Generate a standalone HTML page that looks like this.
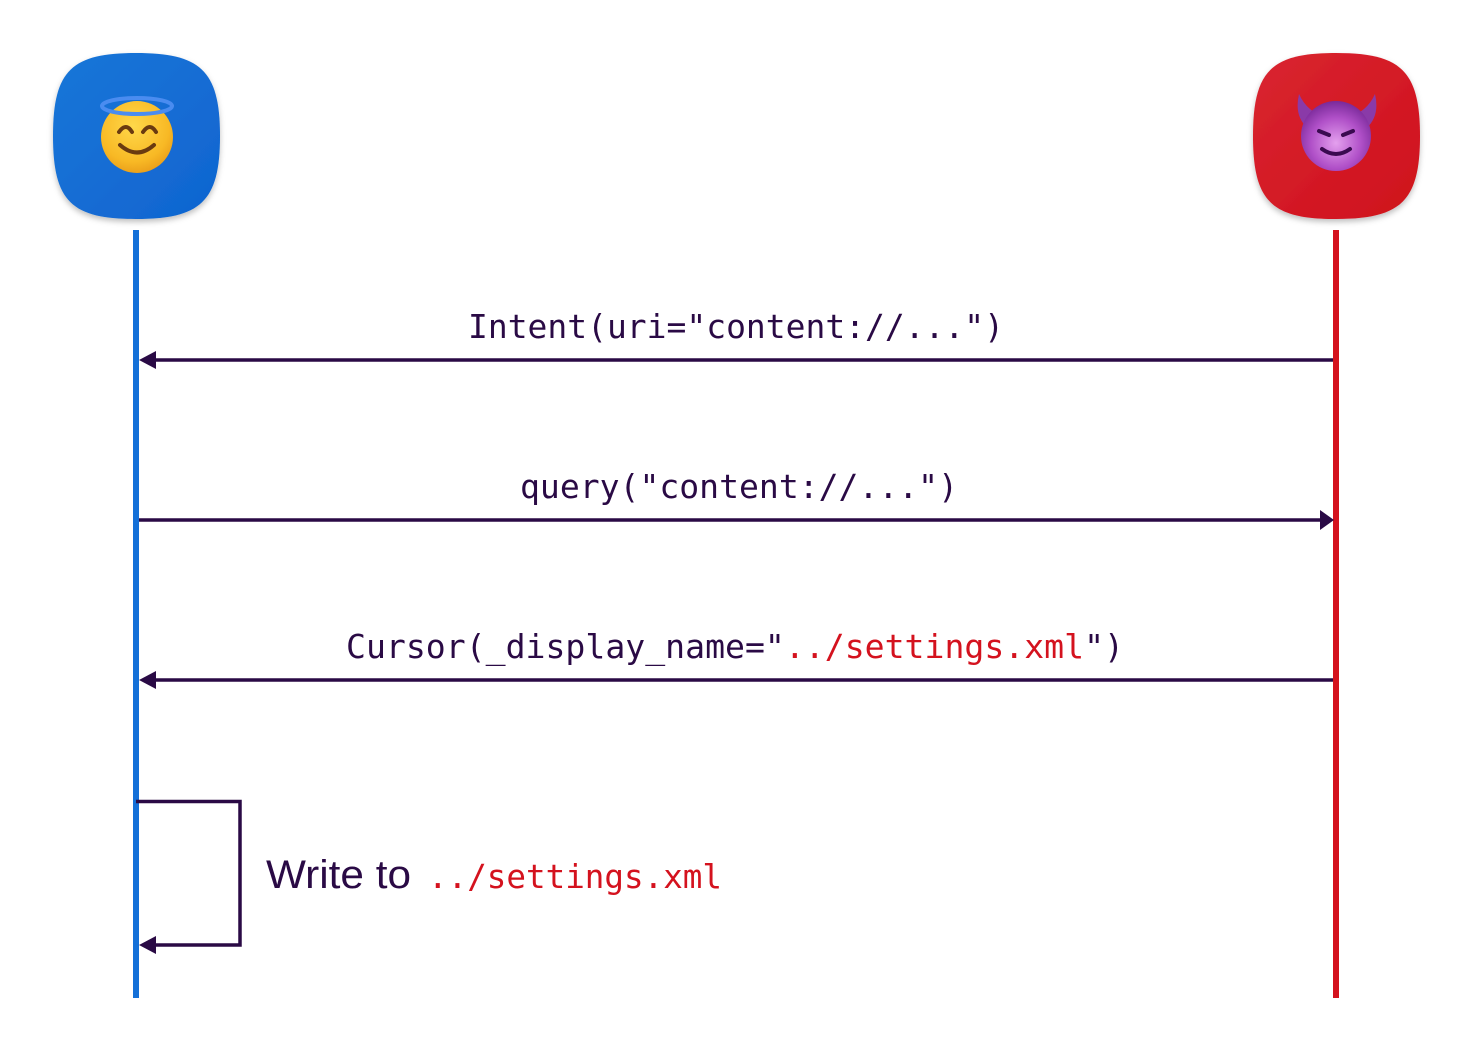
<!DOCTYPE html>
<html><head><meta charset="utf-8"><style>
html,body{margin:0;padding:0;background:#fff;}
svg{display:block}
</style></head><body>
<svg width="1472" height="1040" viewBox="0 0 1472 1040" xmlns="http://www.w3.org/2000/svg">
<defs>
<linearGradient id="bg1" x1="0" y1="0" x2="1" y2="1"><stop offset="0" stop-color="#1a76d8"/><stop offset="1" stop-color="#0f64d0"/></linearGradient>
<linearGradient id="bg2" x1="0" y1="0" x2="1" y2="1"><stop offset="0" stop-color="#d92530"/><stop offset="1" stop-color="#cf101c"/></linearGradient>
<radialGradient id="face1" cx="0.45" cy="0.35" r="0.7"><stop offset="0" stop-color="#ffd84a"/><stop offset="0.7" stop-color="#f8b925"/><stop offset="1" stop-color="#e89a18"/></radialGradient>
<radialGradient id="face2" cx="0.5" cy="0.6" r="0.6"><stop offset="0" stop-color="#e4a0ee"/><stop offset="0.6" stop-color="#b050c8"/><stop offset="1" stop-color="#7a2a9a"/></radialGradient>
<filter id="sh" x="-20%" y="-20%" width="140%" height="140%"><feDropShadow dx="0" dy="3" stdDeviation="3" flood-color="#000" flood-opacity="0.25"/></filter>
</defs>
<path filter="url(#sh)" fill="url(#bg1)" d="M136,53 C200,53 220,70 220,136 C220,202 200,219 136,219 C72,219 53,202 53,136 C53,70 72,53 136,53Z"/>
<path filter="url(#sh)" fill="url(#bg2)" d="M1336,53 C1400,53 1420,70 1420,136 C1420,202 1400,219 1336,219 C1272,219 1253,202 1253,136 C1253,70 1272,53 1336,53Z"/>
<circle cx="137" cy="137" r="36" fill="url(#face1)"/>
<ellipse cx="137" cy="106" rx="35" ry="8" fill="none" stroke="#4a8cf0" stroke-width="4"/>
<path d="M119,132 q7,-10 13,0 M143,132 q7,-10 13,0" stroke="#6a3a10" stroke-width="4" fill="none" stroke-linecap="round"/>
<path d="M120,145 q17,15 34,0" stroke="#6a3a10" stroke-width="4" fill="none" stroke-linecap="round"/>
<path d="M1299,94 q-6,26 14,38 l14,-14 q-20,-6 -28,-24Z M1375,94 q6,26 -14,38 l-14,-14 q20,-6 28,-24Z" fill="#8a3aa8"/>
<circle cx="1336" cy="136" r="35" fill="url(#face2)"/>
<path d="M1319,131 l10,4 M1353,131 l-10,4" stroke="#3a0a50" stroke-width="4" stroke-linecap="round"/>
<path d="M1322,149 q14,10 28,0" stroke="#3a0a50" stroke-width="4" fill="none" stroke-linecap="round"/>
<rect x="133" y="230" width="6" height="768" fill="#1470d8"/>
<rect x="1333" y="230" width="6" height="768" fill="#d4121e"/>
<g stroke="#2a0a45" stroke-width="3.5" fill="none">
<line x1="150" y1="360" x2="1333" y2="360"/>
<line x1="139" y1="520" x2="1322" y2="520"/>
<line x1="150" y1="680" x2="1333" y2="680"/>
<polyline points="136,801.5 240,801.5 240,945 150,945"/>
</g>
<g fill="#2a0a45">
<polygon points="139,360 156,351 156,369"/>
<polygon points="1334,520 1320,510 1320,530"/>
<polygon points="139,680 156,671 156,689"/>
<polygon points="139,945 156,936 156,954"/>
</g>
<g font-family="'DejaVu Sans Mono','Liberation Mono',monospace" font-size="33" fill="#2a0a45">
<text x="468" y="338" textLength="536" lengthAdjust="spacingAndGlyphs">Intent(uri="content://...")</text>
<text x="520" y="498" textLength="438" lengthAdjust="spacingAndGlyphs">query("content://...")</text>
<text x="346" y="658" textLength="778" lengthAdjust="spacingAndGlyphs">Cursor(_display_name="<tspan fill="#d4121e">../settings.xml</tspan>")</text>
</g>
<text x="266" y="888" font-family="'Liberation Sans',sans-serif" font-size="40" fill="#2a0a45" textLength="145" lengthAdjust="spacingAndGlyphs">Write to</text>
<text x="428" y="888" font-family="'DejaVu Sans Mono','Liberation Mono',monospace" font-size="33" fill="#d4121e" textLength="294" lengthAdjust="spacingAndGlyphs">../settings.xml</text>
</svg>
</body></html>
